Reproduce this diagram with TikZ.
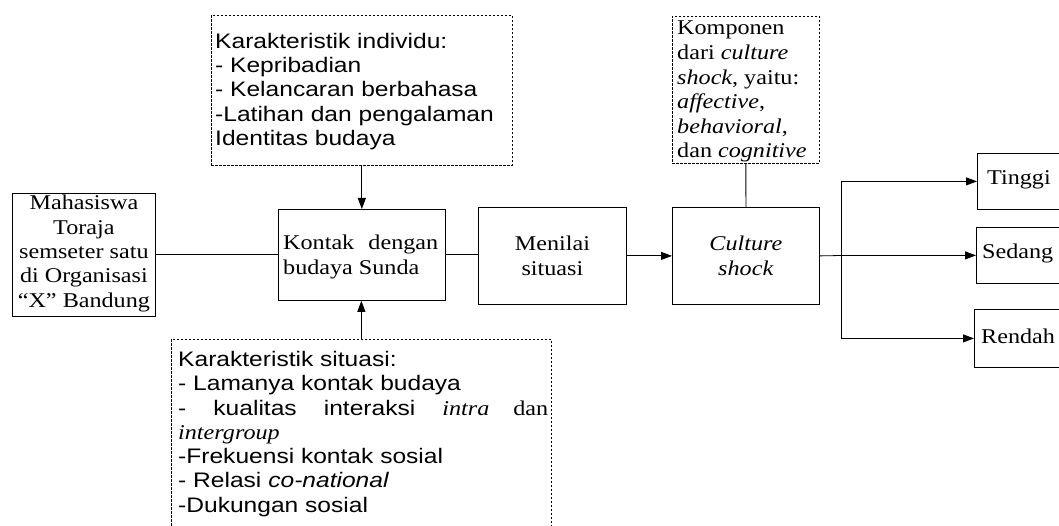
\documentclass[tikz,border=0pt]{standalone}
\usepackage{fontspec}
\setmainfont{Liberation Serif}[FakeStretch=1.15]
\newfontfamily\sansf{Liberation Sans}[FakeStretch=1.17]
\usetikzlibrary{arrows.meta}
\tikzset{
  box/.style={draw, line width=0.8pt, inner sep=0pt, anchor=north west},
  dbox/.style={draw, line width=0.7pt, dash pattern=on 2.5pt off 1.5pt, inner sep=0pt, anchor=north west},
  txt/.style={inner sep=0pt, font=\fontsize{21}{24.4}\selectfont},
  conn/.style={line width=0.8pt},
  arr/.style={conn, -{Triangle[length=11pt,width=8pt]}},
}
\begin{document}
\begin{tikzpicture}[x=1pt,y=-1pt]
\useasboundingbox (0,0) rectangle (1059,526);
% boxes
\node[box, minimum width=143pt, minimum height=123pt] (mhs) at (12,193) {};
\node[box, minimum width=167pt, minimum height=91pt] (kontak) at (278,209) {};
\node[box, minimum width=148pt, minimum height=97pt] (menilai) at (478,207) {};
\node[box, minimum width=147pt, minimum height=97pt] (cs) at (672,207) {};
\node[box, minimum width=95pt, minimum height=56pt] (tinggi) at (977,153) {};
\node[box, minimum width=95pt, minimum height=56pt] (sedang) at (976,227) {};
\node[box, minimum width=95pt, minimum height=58pt] (rendah) at (974,309) {};
\node[dbox, minimum width=301pt, minimum height=150pt] (indiv) at (211,15) {};
\node[dbox, minimum width=380pt, minimum height=200pt] (situ) at (171,339) {};
\node[dbox, minimum width=147pt, minimum height=147pt] (komp) at (672,16) {};
% texts
\node[txt, align=center] (tmhs) at ([yshift=1.5pt]mhs.center) {Mahasiswa\\Toraja\\semseter satu\\di Organisasi\\``X'' Bandung};
\node[txt, align=left, anchor=north west] (tkontak) at (283,235) {\makebox[155pt][s]{Kontak dengan}\\budaya Sunda};
\node[txt, align=center] (tmenilai) at (menilai.center) {Menilai\\situasi};
\node[txt, align=center] (tcs) at (cs.center) {\textit{Culture}\\\textit{shock}};
\node[txt, anchor=west] (ttinggi) at ([xshift=10pt,yshift=2pt]tinggi.west) {Tinggi};
\node[txt, anchor=west] (tsedang) at ([xshift=6pt,yshift=2pt]sedang.west) {Sedang};
\node[txt, anchor=west] (trendah) at ([xshift=7pt,yshift=2pt]rendah.west) {Rendah};
\node[txt, align=left, anchor=north west, font=\fontsize{21}{24.2}\sansf] (tindiv) at (215,33)
  {Karakteristik individu:\\- Kepribadian\\- Kelancaran berbahasa\\-Latihan dan pengalaman\\Identitas budaya};
\node[txt, align=left, anchor=north west, font=\fontsize{21}{24.3}\sansf] (tsitu) at (178,351)
  {Karakteristik situasi:\\- Lamanya kontak budaya\\\makebox[370pt][s]{- kualitas interaksi \rmfamily\itshape intra \upshape dan}\\{\rmfamily\itshape intergroup}\\-Frekuensi kontak sosial\\- Relasi \textit{co-national}\\-Dukungan sosial};
\node[txt, align=left, anchor=north west, font=\fontsize{21}{24.6}\selectfont] (tkomp) at (677,21)
  {Komponen\\dari \textit{culture}\\\textit{shock}, yaitu:\\\textit{affective},\\\textit{behavioral},\\dan \textit{cognitive}};
% connectors
\draw[conn] (mhs.east) -- (kontak.west);
\draw[arr] (indiv.south) -- (indiv.south |- kontak.north);
\draw[arr] (situ.north) -- (situ.north |- kontak.south);
\draw[conn] (kontak.east) -- (menilai.west |- kontak.east);
\draw[arr] (menilai.east) -- (cs.west);
\draw[conn] (komp.south) -- (cs.north);
\coordinate (br) at (841,255.5);
\draw[conn] (cs.east) -- (br);
\draw[arr] (br) |- (tinggi.west);
\draw[arr] (br) -- (sedang.west);
\draw[arr] (br) |- (rendah.west);
\end{tikzpicture}
\end{document}
